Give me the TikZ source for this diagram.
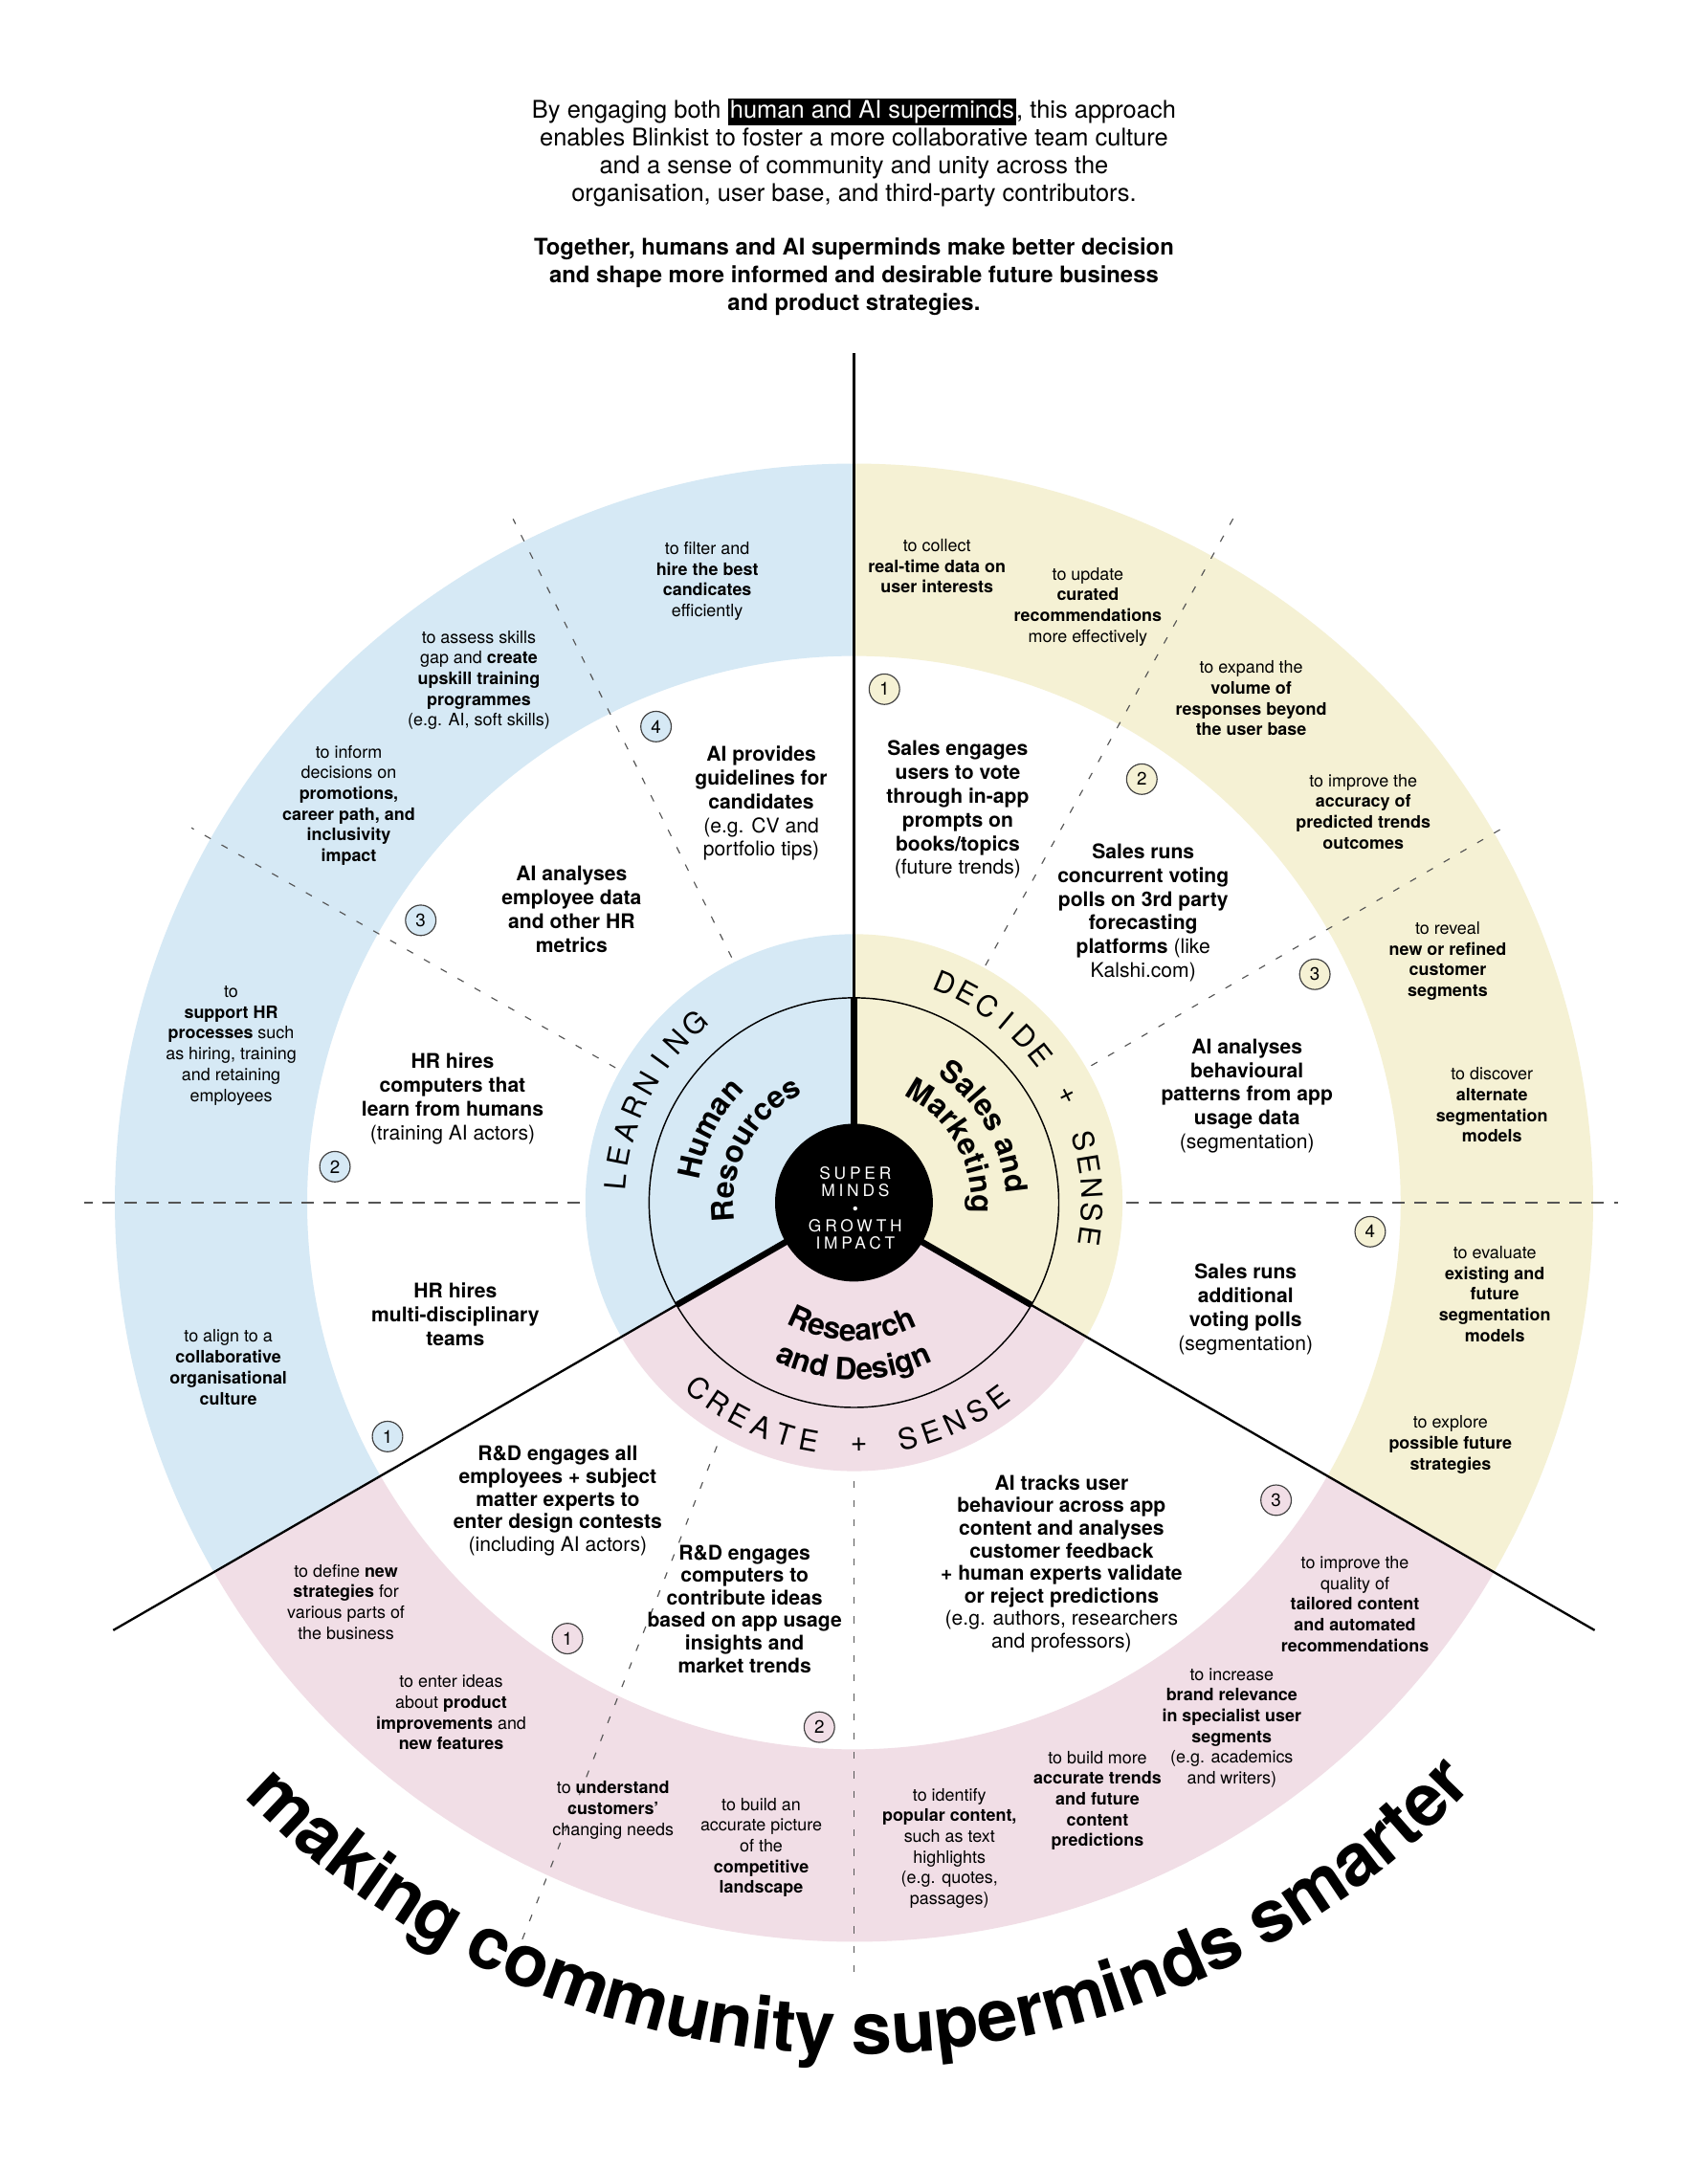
\documentclass[tikz,border=0pt]{standalone}
\usepackage{fontspec}
\setmainfont{TeX Gyre Heros}
\newfontfamily\spacedfont[LetterSpace=22]{TeX Gyre Heros}
\newfontfamily\titlefont[LetterSpace=-3]{TeX Gyre Heros}
\usetikzlibrary{decorations.text}
\definecolor{cblue}{HTML}{D6E9F5}
\definecolor{cyellow}{HTML}{F5F1D4}
\definecolor{cpink}{HTML}{F1DEE6}
\definecolor{dashgray}{HTML}{555555}
\newcommand\ringsz{\fontsize{12.4}{15}\selectfont}
\newcommand\mainsz{\fontsize{14.6}{17.2}\selectfont}
\newcommand\pinksz{\fontsize{14.6}{16.3}\selectfont}
\newcommand\headsz{\fontsize{17.6}{20}\selectfont}
\newcommand\headbsz{\fontsize{16.5}{20}\selectfont}
\newcommand\bft[1]{\textbf{#1}}
\setlength{\fboxsep}{1.5pt}
\tikzset{
  ringtxt/.style={align=center, font=\ringsz, inner sep=0pt},
  maintxt/.style={align=center, font=\mainsz, inner sep=0pt},
  pinktxt/.style={align=center, font=\pinksz, inner sep=0pt},
  numc/.style={circle, draw=black!75, line width=0.8pt, minimum size=22pt, inner sep=0pt, font=\fontsize{13}{13}\selectfont},
  dsh/.style={draw=dashgray, line width=0.8pt, dash pattern=on 5pt off 9pt},
  dshh/.style={draw=dashgray, line width=0.8pt, dash pattern=on 9pt off 7pt},
  divider/.style={line width=1.6pt},
  divthick/.style={line width=4.5pt},
  arclbl/.style={font=\fontsize{21}{21}\selectfont, inner sep=0pt},
}
\begin{document}
\begin{tikzpicture}[x=1pt,y=1pt]
\useasboundingbox (-617,-699) rectangle (617,869);
\fill[white] (-617,-699) rectangle (617,869);

% outer ring sectors
\fill[cblue] (90:534pt) arc[start angle=90,end angle=210,radius=534pt] -- (210:395pt) arc[start angle=210,end angle=90,radius=395pt] -- cycle;
\fill[cyellow] (-30:534pt) arc[start angle=-30,end angle=90,radius=534pt] -- (90:395pt) arc[start angle=90,end angle=-30,radius=395pt] -- cycle;
\fill[cpink] (210:534pt) arc[start angle=210,end angle=330,radius=534pt] -- (330:395pt) arc[start angle=330,end angle=210,radius=395pt] -- cycle;

% inner disk sectors
\fill[cblue] (0,0) -- (90:194pt) arc[start angle=90,end angle=210,radius=194pt] -- cycle;
\fill[cyellow] (0,0) -- (-30:194pt) arc[start angle=-30,end angle=90,radius=194pt] -- cycle;
\fill[cpink] (0,0) -- (210:194pt) arc[start angle=210,end angle=330,radius=194pt] -- cycle;

% dashed sub-dividers
\draw[dshh] (180:198pt) -- (180:556pt);
\draw[dsh] (150.5:198pt) -- (150.5:550pt);
\draw[dsh] (116.5:198pt) -- (116.5:552pt);
\draw[dsh] (61:196pt) -- (61:568pt);
\draw[dsh] (30:198pt) -- (30:545pt);
\draw[dshh] (0:197pt) -- (0:552pt);
\draw[dsh] (-99,-176) -- (-247,-551);
\draw[dsh] (270:201pt) -- (270:556pt);

% thin circle
\draw[line width=1pt] (0,0) circle[radius=148pt];

% dividers
\coordinate (t1) at (90:148pt);  \coordinate (t2) at (90:614pt);
\coordinate (l1) at (210:148pt); \coordinate (l2) at (210:618pt);
\coordinate (r1) at (330:148pt); \coordinate (r2) at (330:618pt);
\coordinate (t0) at (90:50pt); \coordinate (l0) at (210:50pt); \coordinate (r0) at (330:50pt);
\draw[divider] (t1) -- (t2);
\draw[divider] (l1) -- (l2);
\draw[divider] (r1) -- (r2);
\draw[divthick] (t0) -- (t1);
\draw[divthick] (l0) -- (l1);
\draw[divthick] (r0) -- (r1);

% core
\node[circle, fill=black, minimum size=114pt, inner sep=0pt] (core) at (0,0) {};
\node[align=center, text=white, font=\spacedfont\fontsize{12}{12.5}\selectfont, inner sep=0pt] (coretxt) at (1,-4) {SUPER\\MINDS\\\textbullet\\GROWTH\\IMPACT};

% curved letter-spaced labels
\foreach \c [count=\i from 0] in {L,E,A,R,N,I,N,G} {
  \pgfmathsetmacro\ang{175-\i*6.2}
  \pgfmathsetmacro\rot{\ang-90}
  \node[arclbl, rotate=\rot] (learn\i) at (\ang:173pt) {\c};
}
\foreach \c/\k in {D/0,E/1,C/2,I/3,D/4,E/5,+/7,S/9,E/10,N/11,S/12,E/13} {
  \pgfmathsetmacro\ang{67.5-\k*5.82}
  \pgfmathsetmacro\rot{\ang-90}
  \node[arclbl, rotate=\rot] (decide\k) at (\ang:172pt) {\c};
}
\foreach \c/\k in {C/0,R/1,E/2,A/3,T/4,E/5,+/7,S/9,E/10,N/11,S/12,E/13} {
  \pgfmathsetmacro\ang{230+\k*5.88}
  \pgfmathsetmacro\rot{\ang+90}
  \node[arclbl, rotate=\rot] (create\k) at (\ang:175pt) {\c};
}

% curved bold department names
\path[decorate, decoration={text along path, text align=center, text={|\bfseries\fontsize{22}{22}\selectfont|Human}}] (203:113pt) arc[start angle=203, end angle=103, radius=113pt];
\path[decorate, decoration={text along path, text align=center, text={|\bfseries\fontsize{22}{22}\selectfont|Resources}}] (212:87pt) arc[start angle=212, end angle=92, radius=87pt];
\path[decorate, decoration={text along path, text align=center, text={|\bfseries\fontsize{22}{22}\selectfont|Sales and}}] (80:110pt) arc[start angle=80, end angle=-20, radius=110pt];
\path[decorate, decoration={text along path, text align=center, text={|\bfseries\fontsize{22}{22}\selectfont|Marketing}}] (90:85pt) arc[start angle=90, end angle=-30, radius=85pt];
\path[decorate, decoration={text along path, text align=center, text={|\bfseries\fontsize{22}{22}\selectfont|Research}}] (209:100pt) arc[start angle=209, end angle=329, radius=100pt];
\path[decorate, decoration={text along path, text align=center, text={|\bfseries\fontsize{22}{22}\selectfont|and Design}}] (210:128pt) arc[start angle=210, end angle=330, radius=128pt];

% big bottom title
\path[decorate, decoration={text along path, text align=center, text={|\titlefont\bfseries\fontsize{52.5}{52.5}\selectfont|making community superminds smarter}}] (198:615pt) arc[start angle=198, end angle=343, radius=615pt];

% header
\node[align=center, font=\headsz, inner sep=0pt] (head1) at (0,759) {By engaging both \colorbox{black}{\color{white}human and AI superminds}, this approach\\enables Blinkist to foster a more collaborative team culture\\and a sense of community and unity across the\\organisation, user base, and third-party contributors.};
\node[align=center, font=\headbsz\bfseries, inner sep=0pt] (head2) at (0,669) {Together, humans and AI superminds make better decision\\and shape more informed and desirable future business\\and product strategies.};

% numbered circles
\node[numc, fill=cblue] (nb1) at (-337,-169) {1};
\node[numc, fill=cblue] (nb2) at (-375,26) {2};
\node[numc, fill=cblue] (nb3) at (-313,204) {3};
\node[numc, fill=cblue] (nb4) at (-143,344) {4};
\node[numc, fill=cyellow] (ny1) at (22,371) {1};
\node[numc, fill=cyellow] (ny2) at (208,306) {2};
\node[numc, fill=cyellow] (ny3) at (333,165) {3};
\node[numc, fill=cyellow] (ny4) at (373,-21) {4};
\node[numc, fill=cpink] (np1) at (-207,-315) {1};
\node[numc, fill=cpink] (np2) at (-25,-379) {2};
\node[numc, fill=cpink] (np3) at (305,-215) {3};

% blue ring texts
\node[ringtxt] (br4) at (-106,449) {to filter and\\\bft{hire the best}\\\bft{candicates}\\efficiently};
\node[ringtxt] (br3a) at (-271,377.5) {to assess skills\\gap and \bft{create}\\\bft{upskill training}\\\bft{programmes}\\(e.g. AI, soft skills)};
\node[ringtxt] (br3b) at (-365,287) {to inform\\decisions on\\\bft{promotions,}\\\bft{career path, and}\\\bft{inclusivity}\\\bft{impact}};
\node[ringtxt] (br2) at (-450,113.5) {to\\\bft{support HR}\\\bft{processes} such\\as hiring, training\\and retaining\\employees};
\node[ringtxt] (br1) at (-452,-119) {to align to a\\\bft{collaborative}\\\bft{organisational}\\\bft{culture}};

% blue main texts
\node[maintxt] (bm4) at (-67,288.5) {\bft{AI provides}\\\bft{guidelines for}\\\bft{candidates}\\(e.g. CV and\\portfolio tips)};
\node[maintxt] (bm3) at (-204,212) {\bft{AI analyses}\\\bft{employee data}\\\bft{and other HR}\\\bft{metrics}};
\node[maintxt] (bm2) at (-290,75) {\bft{HR hires}\\\bft{computers that}\\\bft{learn from humans}\\(training AI actors)};
\node[maintxt] (bm1) at (-288,-80.5) {\bft{HR hires}\\\bft{multi-disciplinary}\\\bft{teams}};

% yellow ring texts
\node[ringtxt] (yr1a) at (60,460) {to collect\\\bft{real-time data on}\\\bft{user interests}};
\node[ringtxt] (yr1b) at (169,430.5) {to update\\\bft{curated}\\\bft{recommendations}\\more effectively};
\node[ringtxt] (yr2a) at (287,364.5) {to expand the\\\bft{volume of}\\\bft{responses beyond}\\\bft{the user base}};
\node[ringtxt] (yr2b) at (368,282.5) {to improve the\\\bft{accuracy of}\\\bft{predicted trends}\\\bft{outcomes}};
\node[ringtxt] (yr3a) at (429,174.5) {to reveal\\\bft{new or refined}\\\bft{customer}\\\bft{segments}};
\node[ringtxt] (yr3b) at (461,70.5) {to discover\\\bft{alternate}\\\bft{segmentation}\\\bft{models}};
\node[ringtxt] (yr4a) at (463,-66) {to evaluate\\\bft{existing and}\\\bft{future}\\\bft{segmentation}\\\bft{models}};
\node[ringtxt] (yr4b) at (431,-175) {to explore\\\bft{possible future}\\\bft{strategies}};

% yellow main texts
\node[maintxt] (ym1) at (75,284) {\bft{Sales engages}\\\bft{users to vote}\\\bft{through in-app}\\\bft{prompts on}\\\bft{books/topics}\\(future trends)};
\node[maintxt] (ym2) at (209,209.5) {\bft{Sales runs}\\\bft{concurrent voting}\\\bft{polls on 3rd party}\\\bft{forecasting}\\\bft{platforms} (like\\Kalshi.com)};
\node[maintxt] (ym3) at (284,77) {\bft{AI analyses}\\\bft{behavioural}\\\bft{patterns from app}\\\bft{usage data}\\(segmentation)};
\node[maintxt] (ym4) at (283,-77) {\bft{Sales runs}\\\bft{additional}\\\bft{voting polls}\\(segmentation)};

% pink ring texts
\node[ringtxt] (pr1a) at (-367,-288.5) {to define \bft{new}\\\bft{strategies} for\\various parts of\\the business};
\node[ringtxt] (pr1b) at (-291,-368.5) {to enter ideas\\about \bft{product}\\\bft{improvements} and\\\bft{new features}};
\node[ringtxt] (pr2a) at (-174,-439) {to \bft{understand}\\\bft{customers’}\\changing needs};
\node[ringtxt] (pr2b) at (-67,-466) {to build an\\accurate picture\\of the\\\bft{competitive}\\\bft{landscape}};
\node[ringtxt] (pr3a) at (69,-466.5) {to identify\\\bft{popular content,}\\such as text\\highlights\\(e.g. quotes,\\passages)};
\node[ringtxt] (pr3b) at (176,-432) {to build more\\\bft{accurate trends}\\\bft{and future}\\\bft{content}\\\bft{predictions}};
\node[ringtxt] (pr3c) at (273,-379.5) {to increase\\\bft{brand relevance}\\\bft{in specialist user}\\\bft{segments}\\(e.g. academics\\and writers)};
\node[ringtxt] (pr3d) at (362,-290) {to improve the\\quality of\\\bft{tailored content}\\\bft{and automated}\\\bft{recommendations}};

% pink main texts
\node[pinktxt] (pm1) at (-214,-215.5) {\bft{R\&D engages all}\\\bft{employees + subject}\\\bft{matter experts to}\\\bft{enter design contests}\\(including AI actors)};
\node[pinktxt] (pm2) at (-79,-293.5) {\bft{R\&D engages}\\\bft{computers to}\\\bft{contribute ideas}\\\bft{based on app usage}\\\bft{insights and}\\\bft{market trends}};
\node[pinktxt] (pm3) at (150,-261) {\bft{AI tracks user}\\\bft{behaviour across app}\\\bft{content and analyses}\\\bft{customer feedback}\\\bft{+ human experts validate}\\\bft{or reject predictions}\\(e.g. authors, researchers\\and professors)};
\end{tikzpicture}
\end{document}
